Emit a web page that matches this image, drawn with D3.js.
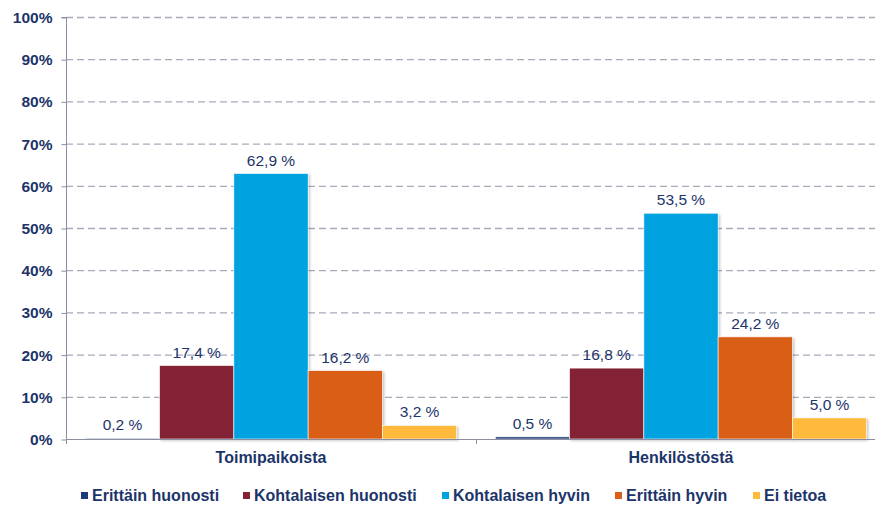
<!DOCTYPE html>
<html><head><meta charset="utf-8">
<script src="https://cdn.jsdelivr.net/npm/d3@7"></script>
<style>body{margin:0;background:#fff}svg{display:block}text{font-family:"Liberation Sans",Arial,sans-serif}</style>
</head><body>
<svg id="c" width="875" height="506"></svg>
<script>
const categories = ["Toimipaikoista", "Henkilöstöstä"];
const seriesNames = ["Erittäin huonosti", "Kohtalaisen huonosti", "Kohtalaisen hyvin", "Erittäin hyvin", "Ei tietoa"];
const seriesColors = ["#1F3A78", "#832434", "#00A2E0", "#D95F18", "#FFBA3C"];
const valuesToimipaikoista = [0.2, 17.4, 62.9, 16.2, 3.2];
const valuesHenkilostosta = [0.5, 16.8, 53.5, 24.2, 5.0];
const yTicks = [0, 10, 20, 30, 40, 50, 60, 70, 80, 90, 100];

(function () {
const values = [valuesToimipaikoista, valuesHenkilostosta];
const textColor = "#1C346A";
const svg = d3.select("#c");
const pLeft = 66, pRight = 886, pTop = 17, pBottom = 439;

const x0 = d3.scaleBand().domain(categories).range([pLeft, pRight]).padding(0);
const x1 = d3.scaleBand().domain(seriesNames).range([0, x0.bandwidth()]).paddingInner(0).paddingOuter(0.26);
const y = d3.scaleLinear().domain([0, 100]).range([pBottom, pTop]);

const defs = svg.append("defs");
const f = defs.append("filter").attr("id", "sh").attr("x", "-10%").attr("y", "-10%").attr("width", "130%").attr("height", "130%");
f.append("feDropShadow").attr("dx", 1.5).attr("dy", 1.5).attr("stdDeviation", 1).attr("flood-color", "#000").attr("flood-opacity", 0.22);

// gridlines
svg.append("g").selectAll("line").data(yTicks.filter(d => d > 0)).join("line")
  .attr("x1", pLeft).attr("x2", 875).attr("y1", d => y(d) + 0.5).attr("y2", d => y(d) + 0.5)
  .attr("stroke", "#A9ABB9").attr("stroke-width", 1.3).attr("stroke-dasharray", "7,4");

// y axis
const yAxis = d3.axisLeft(y).tickValues(yTicks).tickSize(5).tickPadding(9).tickFormat(d => d + "%");
const gy = svg.append("g").attr("transform", `translate(${pLeft + 0.5},0.5)`).call(yAxis);
gy.select(".domain").attr("stroke", "#8A8EA0").attr("d", `M-5,${pTop}H0V${pBottom}`);
gy.selectAll(".tick line").attr("stroke", "#8A8EA0");
gy.selectAll(".tick text").attr("fill", textColor).attr("font-size", "15.5px").attr("font-weight", "bold")
  .attr("font-family", '"Liberation Sans",Arial,sans-serif');

// bars
const groups = svg.append("g").selectAll("g").data(categories).join("g")
  .attr("transform", d => `translate(${x0(d)},0)`);
groups.selectAll("rect").data((d, i) => values[i].map((v, j) => ({v, s: seriesNames[j], c: seriesColors[j]}))).join("rect")
  .attr("x", d => x1(d.s)).attr("width", x1.bandwidth())
  .attr("y", d => y(d.v)).attr("height", d => pBottom - y(d.v))
  .attr("fill", d => d.c).attr("stroke", "#fff").attr("stroke-width", 0.6)
  .attr("filter", "url(#sh)");
groups.selectAll("text").data((d, i) => values[i].map((v, j) => ({v, s: seriesNames[j]}))).join("text")
  .attr("x", d => x1(d.s) + x1.bandwidth() / 2).attr("y", d => y(d.v) - 8)
  .attr("text-anchor", "middle").attr("fill", textColor).attr("font-size", "15.5px")
  .text(d => d3.format(".1f")(d.v).replace(".", ",") + " %");

// x axis
const xAxis = d3.axisBottom(x0).tickSize(0).tickPadding(12);
const gx = svg.append("g").attr("transform", `translate(0,${pBottom + 0.5})`).call(xAxis);
gx.select(".domain").attr("stroke", "#8A8EA0").attr("d", `M${pLeft},0H875`);
gx.selectAll(".tick text").attr("fill", textColor).attr("font-size", "16px").attr("font-weight", "bold")
  .attr("font-family", '"Liberation Sans",Arial,sans-serif');
svg.append("g").selectAll("line").data([pLeft, x0(categories[1])]).join("line")
  .attr("x1", d => d + 0.5).attr("x2", d => d + 0.5).attr("y1", pBottom).attr("y2", pBottom + 5)
  .attr("stroke", "#8A8EA0");

// legend
const legendX = [81, 243, 442, 615, 753];
const lg = svg.append("g").selectAll("g").data(seriesNames).join("g")
  .attr("transform", (d, i) => `translate(${legendX[i]},501)`);
lg.append("rect").attr("x", 0).attr("y", -9).attr("width", 7).attr("height", 7).attr("fill", (d, i) => seriesColors[i]);
lg.append("text").attr("x", 11).attr("y", 0).attr("fill", textColor).attr("font-size", "16px").attr("font-weight", "bold").text(d => d);
})();
</script>
</body></html>
